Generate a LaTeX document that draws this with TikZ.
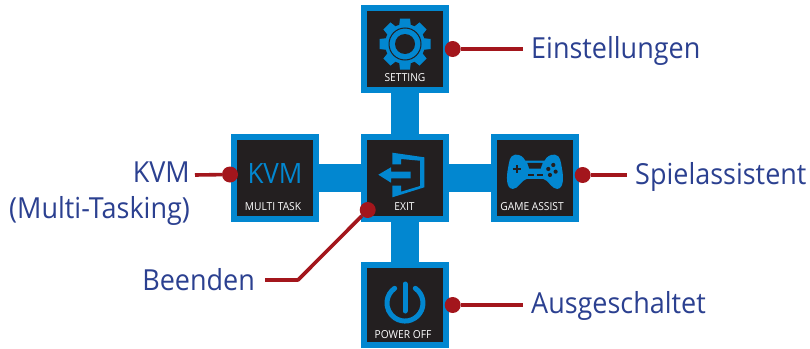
\documentclass[tikz,border=0pt]{standalone}
\usepackage{fontspec}
\setmainfont[FakeStretch=0.93]{Open Sans}
\definecolor{osdblue}{HTML}{0287D0}
\definecolor{osddark}{HTML}{231F20}
\definecolor{osdred}{HTML}{A3161C}
\definecolor{osdtext}{HTML}{2B4090}
\tikzset{
  osdbox/.style={rectangle, draw=osdblue, fill=osddark, line width=6.5pt, minimum size=82pt, inner sep=0pt},
  osdlink/.style={draw=osdblue, line width=28pt},
  osdcap/.style={white, font=\fontsize{11}{11}\selectfont, inner sep=0pt},
  osddot/.style={circle, fill=osdred, minimum size=16pt, inner sep=0pt},
  osdwire/.style={draw=osdred, line width=3.6pt},
  osdlabel/.style={osdtext, font=\fontsize{29}{29}\selectfont, inner sep=0pt},
}
\begin{document}
\begin{tikzpicture}[x=1pt, y=-1pt]
\useasboundingbox (0,0) rectangle (810,348);
\node[osdbox] (bset) at (405,49){};
\node[osdbox] (bexit) at (405,178){};
\node[osdbox] (bkvm) at (275,178){};
\node[osdbox] (bgame) at (535,178){};
\node[osdbox, minimum height=80pt] (bpow) at (405,305){};
\draw[osdlink](bexit) -- (bset);
\draw[osdlink](bexit) -- (bpow);
\draw[osdlink](bexit) -- (bkvm);
\draw[osdlink](bexit) -- (bgame);

\foreach \a in {0,45,...,315}
  \fill[osdblue, rotate around={\a:(405,44)}] (400,18.5) -- (410,18.5) -- (411,27) -- (399,27) -- cycle;
\fill[osdblue] (405,44) circle[radius=20pt];
\draw[osddark, line width=1pt] (405,44) circle[radius=16pt];
\fill[osddark] (405,44) circle[radius=10pt];

\fill[osdblue] (392.3,152.7) -- (424.3,157.3) -- (424.3,187.3) -- (392.3,197.3) -- (392.3,185.7)
  -- (401,185.7) -- (401,191.7) -- (420,186) -- (420,160.7) -- (401,159) -- (401,164.3) -- (392.3,164.3) -- cycle;
\fill[osdblue] (378.3,174.7) -- (391,167.3) -- (391,171.7) -- (410.7,171.7) -- (410.7,178.3) -- (391,178.3) -- (391,182.7) -- cycle;

\begin{scope}[shift={(500,145)}, x=.333pt, y=-.333pt]
\fill[osdblue] (45,29) .. controls (60,28) and (70,35) .. (76,47) -- (134,47)
  .. controls (140,35) and (150,28) .. (165,29) .. controls (182,32) and (182,50) .. (186,70)
  .. controls (190,90) and (194,130) .. (172,132) .. controls (155,133) and (145,104) .. (130,102)
  -- (80,102) .. controls (65,104) and (55,133) .. (38,132) .. controls (16,130) and (20,90) .. (24,70)
  .. controls (28,50) and (28,32) .. (45,29) -- cycle;
\fill[osddark] (82,54) -- (128,54) -- (122,71) -- (88,71) -- cycle;
\draw[osddark, line width=1.4pt] (85,90) -- (103,90) (112,90) -- (128,90);
\draw[osddark, line width=2pt] (38,73) -- (62,73) (50,61) -- (50,85);
\foreach \p in {(160,60),(145,72),(167,80),(150,90)}
  \fill[osddark] \p circle[radius=2.1pt];
\end{scope}

\draw[osdblue, line width=5pt, line cap=round] (415.3,288.3) arc[start angle=-55, end angle=235, radius=18];
\draw[osdblue, line width=5pt, line cap=round] (405,284) -- (405,311);

\node[osdblue, font=\fontsize{28}{28}\selectfont, inner sep=0pt, anchor=base] (tkvm) at (275,183){KVM};
\node[osdcap, anchor=base] (tset) at (405,81){SETTING};
\node[osdcap, anchor=base] (tkvmcap) at (273,210){MULTI TASK};
\node[osdcap, anchor=base] (texit) at (404.5,210){EXIT};
\node[osdcap, anchor=base] (tgame) at (532,210){GAME ASSIST};
\node[osdcap, anchor=base] (tpow) at (403,338){POWER OFF};

\node[osddot] (dset) at (452.7,49){};
\node[osddot] (dpow) at (452.7,305){};
\node[osddot] (dgame) at (582.7,175){};
\node[osddot] (dkvm) at (230,174.5){};
\node[osddot] (dexit) at (367.7,210){};
\coordinate (cset) at (523,49);
\coordinate (cpow) at (523,305);
\coordinate (cgame) at (627,175);
\coordinate (ckvm) at (195,175);
\coordinate (cexit0) at (298,280);
\coordinate (cexit1) at (265,280);
\draw[osdwire](dset) -- (cset);
\draw[osdwire](dpow) -- (cpow);
\draw[osdwire](dgame) -- (cgame);
\draw[osdwire](dkvm) -- (ckvm);
\draw[osdwire, line join=round](dexit) -- (cexit0) -- (cexit1);

\node[osdlabel, anchor=base west] (lset) at (531,58){Einstellungen};
\node[osdlabel, anchor=base west] (lpow) at (531,313){Ausgeschaltet};
\node[osdlabel, anchor=base west] (lgame) at (635,184){Spielassistent};
\node[osdlabel, anchor=base east] (lkvm) at (190,182){KVM};
\node[osdlabel, anchor=base east] (lmulti) at (190,218){(Multi-Tasking)};
\node[osdlabel, anchor=base east] (lexit) at (255,290){Beenden};
\end{tikzpicture}
\end{document}
